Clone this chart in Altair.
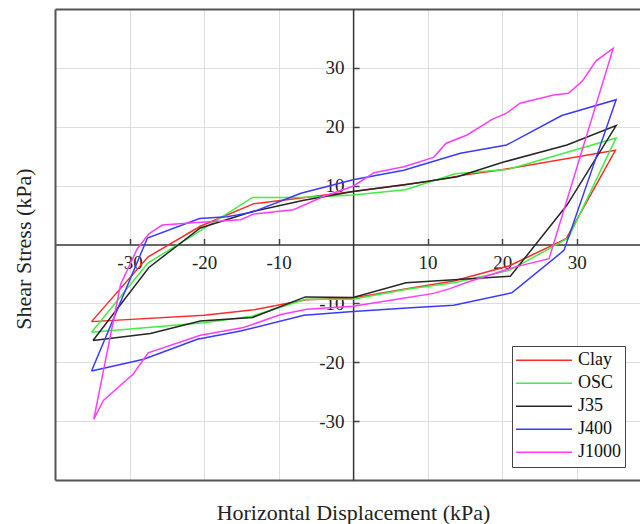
import altair as alt
import pandas as pd

# ---------------- data ----------------
series_names = ["Clay", "OSC", "J35", "J400", "J1000"]
series_colors = ["#ff2a2a", "#40ee40", "#262626", "#3a3aff", "#ff3cff"]

clay_x = [-35.1, -27.5, -20.5, -13.4, -7.0, 0.0, 10.0, 14.4, 20.0, 35.2,
          28.6, 21.0, 13.5, 7.2, 0.0, -6.3, -13.3, -20.0, -35.1]
clay_y = [-13.1, -2.1, 3.1, 6.9, 7.9, 9.0, 10.7, 11.7, 12.7, 16.0,
          1.0, -3.6, -6.2, -7.5, -9.1, -9.4, -11.1, -12.0, -13.1]

osc_x = [-35.1, -27.5, -21.8, -13.5, -7.0, 0.0, 7.0, 13.7, 20.9, 35.3,
         28.9, 21.0, 13.5, 7.2, 0.0, -6.4, -13.6, -20.0, -35.1]
osc_y = [-14.9, -3.1, 1.3, 8.0, 8.0, 8.4, 9.3, 12.0, 12.8, 18.1,
         1.1, -4.4, -6.5, -7.6, -9.3, -9.3, -12.2, -13.3, -14.9]

j35_x = [-34.9, -27.4, -20.5, -13.5, -6.6, 0.0, 7.2, 14.0, 20.2, 28.7, 35.3,
         28.7, 21.1, 7.1, 0.0, -6.4, -13.5, -20.5, -27.2, -34.9]
j35_y = [-16.3, -3.9, 2.8, 5.6, 7.5, 9.0, 10.2, 11.5, 14.0, 16.9, 20.2,
         6.7, -5.4, -6.5, -9.0, -8.9, -12.4, -13.0, -15.1, -16.3]

j400_x = [-35.1, -27.6, -20.6, -16.9, -13.5, -7.0, 0.0, 6.8, 14.4, 20.6, 28.0, 35.3,
          28.3, 21.3, 13.5, 7.2, 0.0, -6.6, -15.1, -20.9, -28.1, -35.1]
j400_y = [-21.5, 1.1, 4.4, 4.7, 5.5, 8.7, 11.0, 12.6, 15.5, 16.9, 21.9, 24.6,
          -1.0, -8.2, -10.3, -10.8, -11.4, -12.0, -14.7, -16.1, -19.5, -21.5]

j1000_x = [-34.8, -31.2, -29.0, -27.4, -25.6, -21.4, -15.1, -13.3, -8.0, -3.9, 0.0,
           2.8, 6.8, 10.8, 12.5, 15.3, 18.6, 20.6, 22.4, 26.9, 28.9, 30.8, 32.6, 34.9,
           26.3, 21.8, 15.3, 13.0, 10.8, 6.3, 0.0, -6.2, -9.7, -14.7, -20.5, -27.5,
           -29.5, -33.5, -34.8]
j1000_y = [-29.7, -6.8, -0.8, 1.8, 3.3, 3.7, 4.2, 5.2, 5.9, 8.2, 9.9,
           12.2, 13.2, 14.8, 17.2, 18.6, 21.2, 22.3, 24.0, 25.4, 25.7, 27.8, 31.2, 33.3,
           -2.4, -3.8, -6.4, -7.5, -8.3, -9.2, -10.5, -11.0, -11.9, -14.1, -15.4, -18.4,
           -22.0, -26.5, -29.7]

tick_vals = [-30, -20, -10, 10, 20, 30]

all_x = [clay_x, osc_x, j35_x, j400_x, j1000_x]
all_y = [clay_y, osc_y, j35_y, j400_y, j1000_y]

rows = []
for name, xs, ys in zip(series_names, all_x, all_y):
    for i, (a, b) in enumerate(zip(xs, ys)):
        rows.append({"series": name, "order": i, "x": a, "y": b})
df = pd.DataFrame(rows)

# ---------------- chart ----------------
SERIF = "Liberation Serif"
FRAME = "#555555"
HYPHEN_LABEL = "datum.value < 0 ? '-' + abs(datum.value) : '' + datum.value"

xscale = alt.Scale(domain=[-40, 38.5], nice=False, zero=False)
yscale = alt.Scale(domain=[-40, 40], nice=False, zero=False)

base = alt.Chart(df)

lines = base.mark_line(strokeWidth=1.5).encode(
    x=alt.X("x:Q", scale=xscale, axis=alt.Axis(
        orient="bottom", values=tick_vals, grid=True, gridColor="#dedede", gridWidth=1,
        ticks=False, labels=False, domain=True, domainColor=FRAME, domainWidth=2,
        title="Horizontal Displacement (kPa)", titleFont=SERIF, titleFontSize=22,
        titleFontWeight="normal", titleColor="#222222", titleX=298, titleY=32,
        titleAlign="center", titleBaseline="middle")),
    y=alt.Y("y:Q", scale=yscale, axis=alt.Axis(
        orient="left", values=tick_vals, grid=True, gridColor="#dedede", gridWidth=1,
        ticks=False, labels=False, domain=True, domainColor=FRAME, domainWidth=2,
        title="Shear Stress (kPa)", titleFont=SERIF, titleFontSize=22,
        titleFontWeight="normal", titleColor="#222222", titleX=-32, titleY=239.5,
        titleAlign="center", titleBaseline="middle")),
    color=alt.Color("series:N", scale=alt.Scale(domain=series_names, range=series_colors),
                    legend=alt.Legend(
                        title=None, orient="none", legendX=457, legendY=337,
                        fillColor="white", strokeColor="#444444", padding=3, rowPadding=0,
                        clipHeight=22.5,
                        symbolType="M-2.73,0L2.73,0", symbolSize=420, symbolStrokeWidth=1.5,
                        symbolOffset=18, labelOffset=23, labelFont=SERIF, labelFontSize=18,
                        labelColor="#111111")),
    order="order:Q",
)

frame_top = base.mark_line(opacity=0).encode(
    x=alt.X("x:Q", scale=xscale, axis=alt.Axis(
        orient="top", domain=True, domainColor=FRAME, domainWidth=2,
        ticks=False, labels=False, grid=False, title=None)),
    y=alt.Y("y:Q", scale=yscale, axis=alt.Axis(
        orient="left", offset=-298.1, values=tick_vals, domain=True, domainColor="#333333",
        domainWidth=1.5, ticks=False, labels=True, labelFont=SERIF, labelFontSize=19,
        labelColor="#222222", labelPadding=9, labelExpr=HYPHEN_LABEL, grid=False, title=None)),
    detail="series:N",
    order="order:Q",
)

zero_x = base.mark_line(opacity=0).encode(
    x=alt.X("x:Q", scale=xscale, axis=alt.Axis(
        orient="bottom", offset=-235.5, values=tick_vals, domain=True, domainColor="#666666",
        domainWidth=2, ticks=False, labels=True, labelFont=SERIF, labelFontSize=19,
        labelColor="#222222", labelPadding=9, labelExpr=HYPHEN_LABEL, grid=False, title=None)),
    y=alt.Y("y:Q", scale=yscale, axis=alt.Axis(
        orient="right", offset=-286.9, values=tick_vals, domain=False, ticks=True,
        tickSize=6, tickColor="#444444", tickWidth=1.5, labels=False, grid=False, title=None)),
    detail="series:N",
    order="order:Q",
)

xticks_up = base.mark_line(opacity=0).encode(
    x=alt.X("x:Q", scale=xscale, axis=alt.Axis(
        orient="top", offset=-235.5, values=tick_vals, domain=False, ticks=True,
        tickSize=6, tickColor="#444444", tickWidth=1.5, labels=False, grid=False, title=None)),
    y=alt.Y("y:Q", scale=yscale, axis=None),
    detail="series:N",
    order="order:Q",
)

chart = alt.layer(lines, frame_top, zero_x, xticks_up).resolve_axis(
    x="independent", y="independent"
).properties(
    width=585, height=471,
    padding={"left": 55, "top": 9, "right": 0, "bottom": 44},
    autosize=alt.AutoSizeParams(type="none"),
    background="white",
).configure_view(strokeWidth=0)

chart.save("out.html", embed_options={"renderer": "svg", "actions": False})
